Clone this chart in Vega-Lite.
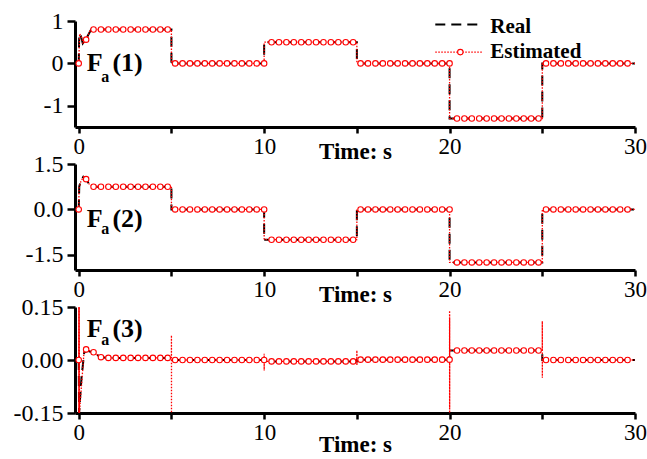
{
  "$schema": "https://vega.github.io/schema/vega-lite/v6.json",
  "background": "white",
  "padding": {"left": 13, "top": 9, "right": 0, "bottom": 0},
  "spacing": 37,
  "bounds": "flush",
  "config": {
    "view": {"stroke": null},
    "font": "Liberation Serif",
    "axis": {
      "grid": false,
      "domainColor": "black",
      "domainWidth": 3,
      "tickColor": "black",
      "tickWidth": 2.5,
      "labelColor": "black",
      "labelFont": "Liberation Serif",
      "labelOverlap": false,
      "titleFont": "Liberation Serif",
      "titleFontSize": 23,
      "titleFontWeight": "bold",
      "titleColor": "black"
    },
    "axisX": {"tickSize": 6, "labelPadding": 2, "labelFlush": false, "labelFontSize": 23},
    "axisY": {"tickSize": 8, "labelPadding": 4, "labelFontSize": 24}
  },
  "datasets": {
    "real": [
      {"p":1,"t":0,"v":0},{"p":1,"t":0.03,"v":0.7},{"p":1,"t":0.12,"v":0.64},{"p":1,"t":0.22,"v":0.47},{"p":1,"t":0.4,"v":0.58},{"p":1,"t":0.67,"v":0.8},
      {"p":1,"t":5,"v":0.8},{"p":1,"t":5.001,"v":0},{"p":1,"t":10,"v":0},{"p":1,"t":10.001,"v":0.5},{"p":1,"t":15,"v":0.5},{"p":1,"t":15.001,"v":0},
      {"p":1,"t":20,"v":0},{"p":1,"t":20.001,"v":-1.3},{"p":1,"t":25,"v":-1.3},{"p":1,"t":25.001,"v":0},{"p":1,"t":30,"v":0},
      {"p":2,"t":0,"v":0},{"p":2,"t":0.03,"v":0.76},{"p":2,"t":0.12,"v":0.95},{"p":2,"t":0.25,"v":1.08},{"p":2,"t":0.4,"v":1.0},{"p":2,"t":0.55,"v":0.85},{"p":2,"t":0.75,"v":0.75},
      {"p":2,"t":5,"v":0.75},{"p":2,"t":5.001,"v":0},{"p":2,"t":10,"v":0},{"p":2,"t":10.001,"v":-1},{"p":2,"t":15,"v":-1},{"p":2,"t":15.001,"v":0},
      {"p":2,"t":20,"v":0},{"p":2,"t":20.001,"v":-1.75},{"p":2,"t":25,"v":-1.75},{"p":2,"t":25.001,"v":0},{"p":2,"t":30,"v":0},
      {"p":3,"t":0,"v":0},{"p":3,"t":0.02,"v":-0.15},{"p":3,"t":0.15,"v":-0.05},{"p":3,"t":0.3,"v":0.022},{"p":3,"t":0.5,"v":0.026},{"p":3,"t":0.8,"v":0.02},{"p":3,"t":1.2,"v":0.008},{"p":3,"t":1.6,"v":0.006},
      {"p":3,"t":5,"v":0.006},{"p":3,"t":5.001,"v":0},{"p":3,"t":10,"v":0},{"p":3,"t":10.001,"v":-0.004},{"p":3,"t":15,"v":-0.004},{"p":3,"t":15.001,"v":0.001},
      {"p":3,"t":20,"v":0.001},{"p":3,"t":20.001,"v":0.027},{"p":3,"t":25,"v":0.027},{"p":3,"t":25.001,"v":0},{"p":3,"t":30,"v":0}
    ],
    "est": [
      {"p":1,"t":0,"v":0},{"p":1,"t":0.05,"v":0.7},{"p":1,"t":0.14,"v":0.63},{"p":1,"t":0.24,"v":0.46},{"p":1,"t":0.4,"v":0.56},{"p":1,"t":0.6,"v":0.76},{"p":1,"t":0.8,"v":0.8},
      {"p":1,"t":5,"v":0.8},{"p":1,"t":5.001,"v":0},{"p":1,"t":10,"v":0},{"p":1,"t":10.001,"v":0.5},{"p":1,"t":15,"v":0.5},{"p":1,"t":15.001,"v":0},
      {"p":1,"t":20,"v":0},{"p":1,"t":20.001,"v":-1.3},{"p":1,"t":25,"v":-1.3},{"p":1,"t":25.001,"v":0},{"p":1,"t":30,"v":0},
      {"p":2,"t":0,"v":0},{"p":2,"t":0.02,"v":0.72},{"p":2,"t":0.12,"v":0.93},{"p":2,"t":0.26,"v":1.08},{"p":2,"t":0.4,"v":1.0},{"p":2,"t":0.56,"v":0.84},{"p":2,"t":0.8,"v":0.75},
      {"p":2,"t":5,"v":0.75},{"p":2,"t":5.001,"v":0},{"p":2,"t":10,"v":0},{"p":2,"t":10.001,"v":-1},{"p":2,"t":15,"v":-1},{"p":2,"t":15.001,"v":0},
      {"p":2,"t":20,"v":0},{"p":2,"t":20.001,"v":-1.75},{"p":2,"t":25,"v":-1.75},{"p":2,"t":25.001,"v":0},{"p":2,"t":30,"v":0},
      {"p":3,"t":0,"v":0},{"p":3,"t":0.004,"v":0.15},{"p":3,"t":0.008,"v":-0.15},{"p":3,"t":0.012,"v":0.15},{"p":3,"t":0.016,"v":-0.15},{"p":3,"t":0.02,"v":0.15},{"p":3,"t":0.024,"v":-0.15},{"p":3,"t":0.028,"v":0.15},{"p":3,"t":0.04,"v":-0.15},
      {"p":3,"t":0.3,"v":0.032},{"p":3,"t":0.4,"v":0.03},{"p":3,"t":0.8,"v":0.022},{"p":3,"t":1.2,"v":0.008},{"p":3,"t":1.6,"v":0.006},
      {"p":3,"t":5,"v":0.006},{"p":3,"t":5.001,"v":0.07},{"p":3,"t":5.003,"v":-0.15},{"p":3,"t":5.005,"v":0},
      {"p":3,"t":10,"v":0},{"p":3,"t":10.001,"v":0.018},{"p":3,"t":10.003,"v":-0.03},{"p":3,"t":10.005,"v":-0.004},
      {"p":3,"t":15,"v":-0.004},{"p":3,"t":15.001,"v":0.027},{"p":3,"t":15.003,"v":-0.015},{"p":3,"t":15.005,"v":0.001},
      {"p":3,"t":20,"v":0.001},{"p":3,"t":20.001,"v":0.14},{"p":3,"t":20.002,"v":-0.15},{"p":3,"t":20.003,"v":0.13},{"p":3,"t":20.004,"v":-0.15},{"p":3,"t":20.005,"v":0.12},{"p":3,"t":20.006,"v":-0.14},{"p":3,"t":20.008,"v":0.027},
      {"p":3,"t":25,"v":0.027},{"p":3,"t":25.001,"v":0.11},{"p":3,"t":25.003,"v":-0.05},{"p":3,"t":25.005,"v":0},{"p":3,"t":30,"v":0}
    ],
    "samples": [
      {"t":0,"a":0,"b":0,"c":0},{"t":0.4,"a":0.56,"b":1.0,"c":0.03},{"t":0.8,"a":0.8,"b":0.75,"c":0.022},{"t":1.2,"a":0.8,"b":0.75,"c":0.008},
      {"t":1.6,"a":0.8,"b":0.75,"c":0.006},{"t":2,"a":0.8,"b":0.75,"c":0.006},{"t":2.4,"a":0.8,"b":0.75,"c":0.006},{"t":2.8,"a":0.8,"b":0.75,"c":0.006},
      {"t":3.2,"a":0.8,"b":0.75,"c":0.006},{"t":3.6,"a":0.8,"b":0.75,"c":0.006},{"t":4,"a":0.8,"b":0.75,"c":0.006},{"t":4.4,"a":0.8,"b":0.75,"c":0.006},
      {"t":4.8,"a":0.8,"b":0.75,"c":0.006},
      {"t":5.2,"a":0,"b":0,"c":0},{"t":5.6,"a":0,"b":0,"c":0},{"t":6,"a":0,"b":0,"c":0},{"t":6.4,"a":0,"b":0,"c":0},{"t":6.8,"a":0,"b":0,"c":0},
      {"t":7.2,"a":0,"b":0,"c":0},{"t":7.6,"a":0,"b":0,"c":0},{"t":8,"a":0,"b":0,"c":0},{"t":8.4,"a":0,"b":0,"c":0},{"t":8.8,"a":0,"b":0,"c":0},
      {"t":9.2,"a":0,"b":0,"c":0},{"t":9.6,"a":0,"b":0,"c":0},{"t":10,"a":0,"b":0,"c":0},
      {"t":10.4,"a":0.5,"b":-1,"c":-0.004},{"t":10.8,"a":0.5,"b":-1,"c":-0.004},{"t":11.2,"a":0.5,"b":-1,"c":-0.004},{"t":11.6,"a":0.5,"b":-1,"c":-0.004},
      {"t":12,"a":0.5,"b":-1,"c":-0.004},{"t":12.4,"a":0.5,"b":-1,"c":-0.004},{"t":12.8,"a":0.5,"b":-1,"c":-0.004},{"t":13.2,"a":0.5,"b":-1,"c":-0.004},
      {"t":13.6,"a":0.5,"b":-1,"c":-0.004},{"t":14,"a":0.5,"b":-1,"c":-0.004},{"t":14.4,"a":0.5,"b":-1,"c":-0.004},{"t":14.8,"a":0.5,"b":-1,"c":-0.004},
      {"t":15.2,"a":0,"b":0,"c":0.001},{"t":15.6,"a":0,"b":0,"c":0.001},{"t":16,"a":0,"b":0,"c":0.001},{"t":16.4,"a":0,"b":0,"c":0.001},
      {"t":16.8,"a":0,"b":0,"c":0.001},{"t":17.2,"a":0,"b":0,"c":0.001},{"t":17.6,"a":0,"b":0,"c":0.001},{"t":18,"a":0,"b":0,"c":0.001},
      {"t":18.4,"a":0,"b":0,"c":0.001},{"t":18.8,"a":0,"b":0,"c":0.001},{"t":19.2,"a":0,"b":0,"c":0.001},{"t":19.6,"a":0,"b":0,"c":0.001},
      {"t":20,"a":0,"b":0,"c":0.001},
      {"t":20.4,"a":-1.3,"b":-1.75,"c":0.027},{"t":20.8,"a":-1.3,"b":-1.75,"c":0.027},{"t":21.2,"a":-1.3,"b":-1.75,"c":0.027},{"t":21.6,"a":-1.3,"b":-1.75,"c":0.027},
      {"t":22,"a":-1.3,"b":-1.75,"c":0.027},{"t":22.4,"a":-1.3,"b":-1.75,"c":0.027},{"t":22.8,"a":-1.3,"b":-1.75,"c":0.027},{"t":23.2,"a":-1.3,"b":-1.75,"c":0.027},
      {"t":23.6,"a":-1.3,"b":-1.75,"c":0.027},{"t":24,"a":-1.3,"b":-1.75,"c":0.027},{"t":24.4,"a":-1.3,"b":-1.75,"c":0.027},{"t":24.8,"a":-1.3,"b":-1.75,"c":0.027},
      {"t":25.2,"a":0,"b":0,"c":0},{"t":25.6,"a":0,"b":0,"c":0},{"t":26,"a":0,"b":0,"c":0},{"t":26.4,"a":0,"b":0,"c":0},{"t":26.8,"a":0,"b":0,"c":0},
      {"t":27.2,"a":0,"b":0,"c":0},{"t":27.6,"a":0,"b":0,"c":0},{"t":28,"a":0,"b":0,"c":0},{"t":28.4,"a":0,"b":0,"c":0},{"t":28.8,"a":0,"b":0,"c":0},
      {"t":29.2,"a":0,"b":0,"c":0},{"t":29.6,"a":0,"b":0,"c":0}
    ]
  },
  "vconcat": [
    {
      "width": 560,
      "height": 106,
      "layer": [
        {
          "data": {"name": "real"},
          "transform": [{"filter": "datum.p === 1"}],
          "mark": {"type": "line", "color": "black", "strokeWidth": 2, "strokeDash": [10, 6], "clip": true},
          "encoding": {
            "x": {"field": "t", "type": "quantitative", "scale": {"domain": [-0.2, 30], "nice": false, "zero": false},
                  "axis": {"title": "Time: s", "values": [0, 5, 10, 15, 20, 25, 30], "labelExpr": "datum.value % 10 === 0 ? datum.label : ''", "titleY": 31, "titleBaseline": "alphabetic"}},
            "y": {"field": "v", "type": "quantitative", "scale": {"domain": [-1.5, 1], "nice": false},
                  "axis": {"title": null, "values": [-1, -0.5, 0, 0.5, 1], "labelExpr": "datum.value === 1 ? '1' : datum.value === 0 ? '0' : datum.value === -1 ? '-1' : ''"}}
          }
        },
        {
          "data": {"name": "est"},
          "transform": [{"filter": "datum.p === 1"}],
          "mark": {"type": "line", "color": "#ff0000", "strokeWidth": 1.3, "strokeDash": [1.5, 1.5], "clip": true},
          "encoding": {
            "x": {"field": "t", "type": "quantitative"},
            "y": {"field": "v", "type": "quantitative", "axis": {"title": null}}
          }
        },
        {
          "data": {"name": "samples"},
          "mark": {"type": "point", "shape": "circle", "filled": true, "fill": "white", "stroke": "#ff0000", "strokeWidth": 1.1, "size": 30, "opacity": 1},
          "encoding": {
            "x": {"field": "t", "type": "quantitative"},
            "y": {"field": "a", "type": "quantitative", "axis": {"title": null}}
          }
        },
        {
          "data": {"values": [{}]},
          "mark": {"type": "text", "text": "F", "fontSize": 26, "fontWeight": "bold", "align": "left", "baseline": "alphabetic", "color": "black"},
          "encoding": {"x": {"datum": 0.43}, "y": {"datum": -0.17}}
        },
        {
          "data": {"values": [{}]},
          "mark": {"type": "text", "text": "a", "fontSize": 16, "fontWeight": "bold", "align": "left", "baseline": "alphabetic", "color": "black"},
          "encoding": {"x": {"datum": 1.21}, "y": {"datum": -0.43}}
        },
        {
          "data": {"values": [{}]},
          "mark": {"type": "text", "text": "(1)", "fontSize": 26, "fontWeight": "bold", "align": "left", "baseline": "alphabetic", "color": "black"},
          "encoding": {"x": {"datum": 1.82}, "y": {"datum": -0.17}}
        },
        {
          "data": {"values": [{}]},
          "mark": {"type": "rule", "color": "black", "strokeWidth": 2, "strokeDash": [10, 6]},
          "encoding": {"x": {"datum": 19.23}, "x2": {"datum": 21.66}, "y": {"datum": 0.918}}
        },
        {
          "data": {"values": [{}]},
          "mark": {"type": "rule", "color": "#ff0000", "strokeWidth": 1.3, "strokeDash": [1.5, 1.5]},
          "encoding": {"x": {"datum": 19.23}, "x2": {"datum": 21.77}, "y": {"datum": 0.266}}
        },
        {
          "data": {"values": [{}]},
          "mark": {"type": "point", "shape": "circle", "filled": true, "fill": "white", "stroke": "#ff0000", "strokeWidth": 1.1, "size": 30, "opacity": 1},
          "encoding": {"x": {"datum": 20.58}, "y": {"datum": 0.266}}
        },
        {
          "data": {"values": [{}]},
          "mark": {"type": "text", "text": "Real", "fontSize": 21, "fontWeight": "bold", "align": "left", "baseline": "middle", "color": "black"},
          "encoding": {"x": {"datum": 22.2}, "y": {"datum": 0.87}}
        },
        {
          "data": {"values": [{}]},
          "mark": {"type": "text", "text": "Estimated", "fontSize": 21, "fontWeight": "bold", "align": "left", "baseline": "middle", "color": "black"},
          "encoding": {"x": {"datum": 22.2}, "y": {"datum": 0.27}}
        }
      ]
    },
    {
      "width": 560,
      "height": 106,
      "layer": [
        {
          "data": {"name": "real"},
          "transform": [{"filter": "datum.p === 2"}],
          "mark": {"type": "line", "color": "black", "strokeWidth": 2, "strokeDash": [10, 6], "clip": true},
          "encoding": {
            "x": {"field": "t", "type": "quantitative", "scale": {"domain": [-0.2, 30], "nice": false, "zero": false},
                  "axis": {"title": "Time: s", "values": [0, 5, 10, 15, 20, 25, 30], "labelExpr": "datum.value % 10 === 0 ? datum.label : ''", "titleY": 31, "titleBaseline": "alphabetic"}},
            "y": {"field": "v", "type": "quantitative", "scale": {"domain": [-2, 1.5], "nice": false},
                  "axis": {"title": null, "values": [-1.5, -0.75, 0, 0.75, 1.5], "labelExpr": "datum.value === 1.5 ? '1.5' : datum.value === 0 ? '0.0' : datum.value === -1.5 ? '-1.5' : ''"}}
          }
        },
        {
          "data": {"name": "est"},
          "transform": [{"filter": "datum.p === 2"}],
          "mark": {"type": "line", "color": "#ff0000", "strokeWidth": 1.3, "strokeDash": [1.5, 1.5], "clip": true},
          "encoding": {
            "x": {"field": "t", "type": "quantitative"},
            "y": {"field": "v", "type": "quantitative", "axis": {"title": null}}
          }
        },
        {
          "data": {"name": "samples"},
          "mark": {"type": "point", "shape": "circle", "filled": true, "fill": "white", "stroke": "#ff0000", "strokeWidth": 1.1, "size": 30, "opacity": 1},
          "encoding": {
            "x": {"field": "t", "type": "quantitative"},
            "y": {"field": "b", "type": "quantitative", "axis": {"title": null}}
          }
        },
        {
          "data": {"values": [{}]},
          "mark": {"type": "text", "text": "F", "fontSize": 26, "fontWeight": "bold", "align": "left", "baseline": "alphabetic", "color": "black"},
          "encoding": {"x": {"datum": 0.43}, "y": {"datum": -0.57}}
        },
        {
          "data": {"values": [{}]},
          "mark": {"type": "text", "text": "a", "fontSize": 16, "fontWeight": "bold", "align": "left", "baseline": "alphabetic", "color": "black"},
          "encoding": {"x": {"datum": 1.21}, "y": {"datum": -0.81}}
        },
        {
          "data": {"values": [{}]},
          "mark": {"type": "text", "text": "(2)", "fontSize": 26, "fontWeight": "bold", "align": "left", "baseline": "alphabetic", "color": "black"},
          "encoding": {"x": {"datum": 1.82}, "y": {"datum": -0.57}}
        }
      ]
    },
    {
      "width": 560,
      "height": 106,
      "layer": [
        {
          "data": {"name": "real"},
          "transform": [{"filter": "datum.p === 3"}],
          "mark": {"type": "line", "color": "black", "strokeWidth": 2, "strokeDash": [10, 6], "clip": true},
          "encoding": {
            "x": {"field": "t", "type": "quantitative", "scale": {"domain": [-0.2, 30], "nice": false, "zero": false},
                  "axis": {"title": "Time: s", "values": [0, 5, 10, 15, 20, 25, 30], "labelExpr": "datum.value % 10 === 0 ? datum.label : ''", "titleY": 38, "titleBaseline": "alphabetic"}},
            "y": {"field": "v", "type": "quantitative", "scale": {"domain": [-0.15, 0.15], "nice": false},
                  "axis": {"title": null, "values": [-0.15, -0.075, 0, 0.075, 0.15], "labelExpr": "datum.value === 0.15 ? '0.15' : datum.value === 0 ? '0.00' : datum.value === -0.15 ? '-0.15' : ''"}}
          }
        },
        {
          "data": {"name": "est"},
          "transform": [{"filter": "datum.p === 3"}],
          "mark": {"type": "line", "color": "#ff0000", "strokeWidth": 1.3, "strokeDash": [1.5, 1.5], "clip": true},
          "encoding": {
            "x": {"field": "t", "type": "quantitative"},
            "y": {"field": "v", "type": "quantitative", "axis": {"title": null}}
          }
        },
        {
          "data": {"name": "samples"},
          "mark": {"type": "point", "shape": "circle", "filled": true, "fill": "white", "stroke": "#ff0000", "strokeWidth": 1.1, "size": 30, "opacity": 1},
          "encoding": {
            "x": {"field": "t", "type": "quantitative"},
            "y": {"field": "c", "type": "quantitative", "axis": {"title": null}}
          }
        },
        {
          "data": {"values": [{}]},
          "mark": {"type": "text", "text": "F", "fontSize": 26, "fontWeight": "bold", "align": "left", "baseline": "alphabetic", "color": "black"},
          "encoding": {"x": {"datum": 0.43}, "y": {"datum": 0.066}}
        },
        {
          "data": {"values": [{}]},
          "mark": {"type": "text", "text": "a", "fontSize": 16, "fontWeight": "bold", "align": "left", "baseline": "alphabetic", "color": "black"},
          "encoding": {"x": {"datum": 1.21}, "y": {"datum": 0.042}}
        },
        {
          "data": {"values": [{}]},
          "mark": {"type": "text", "text": "(3)", "fontSize": 26, "fontWeight": "bold", "align": "left", "baseline": "alphabetic", "color": "black"},
          "encoding": {"x": {"datum": 1.82}, "y": {"datum": 0.066}}
        }
      ]
    }
  ]
}
